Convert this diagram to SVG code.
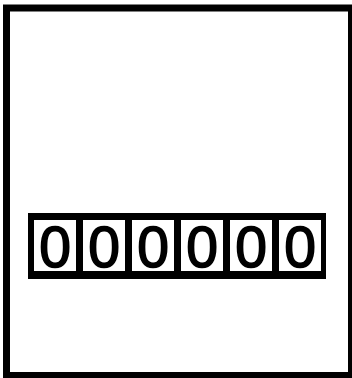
<svg xmlns="http://www.w3.org/2000/svg" width="352" height="378" viewBox="0 0 352 378">
<style>
.cell{fill:#fff;stroke:none}
.d{font-family:"Liberation Sans",Arial,sans-serif;font-size:57px;fill:#000;stroke:#000;stroke-width:1.6px;text-anchor:middle}
</style>
<rect x="0" y="0" width="352" height="378" fill="#fff"/>
<g id="frame">
<rect x="6.5" y="8" width="345" height="367.5" fill="#fff" stroke="#000" stroke-width="7"/>
</g>
<g id="counter">
<rect x="28" y="213" width="298" height="66" fill="#000"/>
<rect class="cell" x="34" y="220" width="42" height="51"/>
<rect class="cell" x="83" y="220" width="42" height="51"/>
<rect class="cell" x="132" y="220" width="42" height="51"/>
<rect class="cell" x="181" y="220" width="42" height="51"/>
<rect class="cell" x="230" y="220" width="42" height="51"/>
<rect class="cell" x="279" y="220" width="42" height="51"/>
<text class="d" x="55" y="267">0</text>
<text class="d" x="104" y="267">0</text>
<text class="d" x="153" y="267">0</text>
<text class="d" x="202" y="267">0</text>
<text class="d" x="251" y="267">0</text>
<text class="d" x="300" y="267">0</text>
</g>
<g id="connectors"/>
</svg>
